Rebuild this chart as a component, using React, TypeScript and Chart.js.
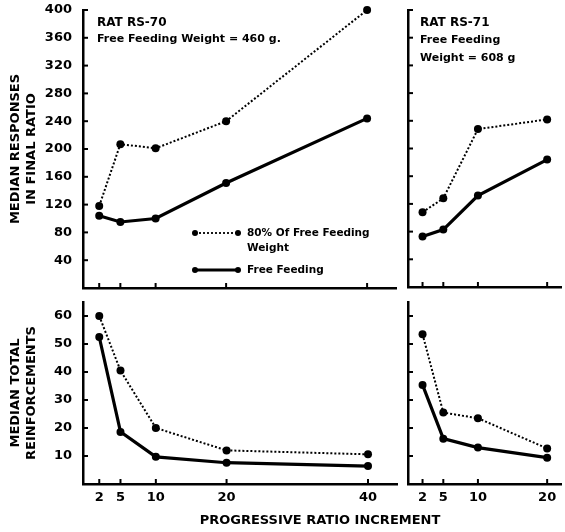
import React, { useEffect, useRef } from "react";
import { Chart, registerables } from "chart.js";
Chart.register(...registerables);

const FONT = "'DejaVu Sans', 'Liberation Sans', sans-serif";

// Progressive ratio increments (x categories)
const incrementsRS70 = [2, 5, 10, 20, 40];
const incrementsRS71 = [2, 5, 10, 20];

// Median responses in final ratio
const rs70Resp80 = [118, 207, 201, 240, 400];
const rs70RespFree = [104, 95, 100, 151, 244];
const rs71Resp80 = [108, 128, 228, 242];
const rs71RespFree = [73, 83, 132, 184];

// Median total reinforcements
const rs70Reinf80 = [60, 40.5, 20, 12, 10.6];
const rs70ReinfFree = [52.5, 18.6, 9.7, 7.6, 6.4];
const rs71Reinf80 = [53.5, 25.5, 23.5, 12.7];
const rs71ReinfFree = [35.4, 16.2, 13, 9.4];

// Tick values
const responseTicks = [40, 80, 120, 160, 200, 240, 280, 320, 360, 400];
const reinfTicks = [10, 20, 30, 40, 50, 60];

const legend80 = ["80% Of Free Feeding", "Weight"];
const legendFree = "Free Feeding";
const xAxisTitle = "PROGRESSIVE RATIO INCREMENT";

const inwardTicks = {
  id: "inwardTicks",
  afterDatasetsDraw(chart: any) {
    const { ctx, chartArea } = chart;
    const xs = chart.scales.x;
    const ys = chart.scales.y;
    ctx.save();
    ctx.strokeStyle = "#000";
    ctx.lineWidth = 2;
    for (const t of xs.ticks) {
      const px = xs.getPixelForValue(t.value);
      ctx.beginPath();
      ctx.moveTo(px, chartArea.bottom);
      ctx.lineTo(px, chartArea.bottom - 5);
      ctx.stroke();
    }
    for (const t of ys.ticks) {
      const py = ys.getPixelForValue(t.value);
      ctx.beginPath();
      ctx.moveTo(chartArea.left, py);
      ctx.lineTo(chartArea.left + 5, py);
      ctx.stroke();
    }
    ctx.restore();
  },
};

function textPlugin(id: string, draw: (ctx: CanvasRenderingContext2D) => void) {
  return {
    id,
    afterDraw(chart: any) {
      const ctx = chart.ctx as CanvasRenderingContext2D;
      ctx.save();
      ctx.fillStyle = "#000";
      ctx.strokeStyle = "#000";
      ctx.textBaseline = "middle";
      ctx.textAlign = "left";
      draw(ctx);
      ctx.restore();
    },
  };
}

type PanelProps = {
  left: number;
  top: number;
  width: number;
  height: number;
  xs: number[];
  s80: number[];
  sFree: number[];
  xMin: number;
  xMax: number;
  yMax: number;
  yTicks: number[];
  showY: boolean;
  showX: boolean;
  yTitle?: string[];
  padding: { top: number; right: number; bottom: number; left: number };
  yWidth: number;
  xHeight: number;
  extra?: any;
};

function zeroPad(s: any) {
  s.paddingTop = 0;
  s.paddingBottom = 0;
  s.paddingLeft = 0;
  s.paddingRight = 0;
}

function Panel(p: PanelProps) {
  const ref = useRef<HTMLCanvasElement>(null);
  useEffect(() => {
    const tickFont = { family: FONT, size: 13, weight: "bold" as const };
    const chart = new Chart(ref.current!, {
      type: "line",
      data: {
        datasets: [
          {
            data: p.xs.map((x, i) => ({ x, y: p.s80[i] })),
            borderColor: "#000",
            borderWidth: 2,
            borderDash: [2, 2],
            pointRadius: 4,
            pointBackgroundColor: "#000",
            pointBorderWidth: 0,
            tension: 0,
            clip: false as any,
          },
          {
            data: p.xs.map((x, i) => ({ x, y: p.sFree[i] })),
            borderColor: "#000",
            borderWidth: 3.2,
            pointRadius: 4,
            pointBackgroundColor: "#000",
            pointBorderWidth: 0,
            tension: 0,
            clip: false as any,
          },
        ],
      },
      options: {
        animation: false,
        responsive: false,
        devicePixelRatio: 1,
        layout: { padding: p.padding },
        plugins: { legend: { display: false }, tooltip: { enabled: false } },
        scales: {
          x: {
            type: "linear",
            min: p.xMin,
            max: p.xMax,
            afterBuildTicks: (s: any) => {
              s.ticks = p.xs.map((v) => ({ value: v }));
            },
            afterFit: (s: any) => {
              s.height = p.xHeight;
              zeroPad(s);
            },
            grid: { display: false, drawTicks: false },
            border: { display: true, color: "#000", width: 2.5 },
            ticks: {
              display: p.showX,
              padding: 6,
              color: "#000",
              font: tickFont,
              maxRotation: 0,
              autoSkip: false,
              callback: (v: any) => String(v),
            },
          },
          y: {
            type: "linear",
            min: 0,
            max: p.yMax,
            afterBuildTicks: (s: any) => {
              s.ticks = p.yTicks.map((v) => ({ value: v }));
            },
            afterFit: (s: any) => {
              s.width = p.yWidth;
              zeroPad(s);
            },
            grid: { display: false, drawTicks: false },
            border: { display: true, color: "#000", width: 2.5 },
            ticks: {
              display: p.showY,
              padding: 11,
              color: "#000",
              font: tickFont,
              autoSkip: false,
              callback: (v: any) => String(v),
            },
            title: p.yTitle
              ? {
                  display: true,
                  text: p.yTitle,
                  color: "#000",
                  font: { family: FONT, size: 13, weight: "bold", lineHeight: 1.23 },
                  padding: { top: 8, bottom: 0 },
                }
              : { display: false },
          },
        },
      } as any,
      plugins: p.extra ? [inwardTicks, p.extra] : [inwardTicks],
    });
    return () => chart.destroy();
  }, []);
  return (
    <canvas
      ref={ref}
      width={p.width}
      height={p.height}
      style={{ position: "absolute", left: p.left, top: p.top, display: "block" }}
    />
  );
}

const tlText = textPlugin("tlText", (ctx) => {
  ctx.font = `bold 12px ${FONT}`;
  ctx.fillText("RAT RS-70", 97, 23);
  ctx.font = `bold 11px ${FONT}`;
  ctx.fillText("Free Feeding Weight = 460 g.", 97, 39);
  // legend
  ctx.setLineDash([2, 2]);
  ctx.lineWidth = 1.8;
  ctx.beginPath();
  ctx.moveTo(195, 233);
  ctx.lineTo(238, 233);
  ctx.stroke();
  ctx.setLineDash([]);
  ctx.lineWidth = 3;
  ctx.beginPath();
  ctx.moveTo(195, 270);
  ctx.lineTo(238, 270);
  ctx.stroke();
  for (const [x, y] of [
    [195, 233],
    [238, 233],
    [195, 270],
    [238, 270],
  ]) {
    ctx.beginPath();
    ctx.arc(x, y, 3, 0, Math.PI * 2);
    ctx.fill();
  }
  ctx.font = `bold 10.5px ${FONT}`;
  ctx.fillText(legend80[0], 247, 233);
  ctx.fillText(legend80[1], 247, 248);
  ctx.fillText(legendFree, 247, 270);
});

const trText = textPlugin("trText", (ctx) => {
  ctx.font = `bold 12px ${FONT}`;
  ctx.fillText("RAT RS-71", 20, 23);
  ctx.font = `bold 11px ${FONT}`;
  ctx.fillText("Free Feeding", 20, 40);
  ctx.fillText("Weight = 608 g", 20, 58);
});

const blText = textPlugin("blText", (ctx) => {
  ctx.font = `bold 13px ${FONT}`;
  ctx.textAlign = "center";
  ctx.fillText(xAxisTitle, 320, 229);
});

export default function App() {
  return (
    <div style={{ position: "absolute", left: 0, top: 0, width: 565, height: 532, background: "#fff" }}>
      <Panel
        left={0}
        top={0}
        width={400}
        height={292}
        xs={incrementsRS70}
        s80={rs70Resp80}
        sFree={rs70RespFree}
        xMin={-0.3}
        xMax={44.1}
        yMax={400}
        yTicks={responseTicks}
        showY={true}
        showX={false}
        yTitle={["MEDIAN RESPONSES", "IN FINAL RATIO"]}
        padding={{ top: 10, right: 3, bottom: 0, left: 0 }}
        yWidth={83}
        xHeight={4}
        extra={tlText}
      />
      <Panel
        left={400}
        top={0}
        width={165}
        height={292}
        xs={incrementsRS71}
        s80={rs71Resp80}
        sFree={rs71RespFree}
        xMin={-0.1}
        xMax={22}
        yMax={400}
        yTicks={responseTicks}
        showY={false}
        showX={false}
        padding={{ top: 10, right: 0, bottom: 0, left: 0 }}
        yWidth={8}
        xHeight={5}
        extra={trText}
      />
      <Panel
        left={0}
        top={292}
        width={565}
        height={240}
        xs={incrementsRS70}
        s80={rs70Reinf80}
        sFree={rs70ReinfFree}
        xMin={-0.3}
        xMax={44.1}
        yMax={65}
        yTicks={reinfTicks}
        showY={true}
        showX={true}
        yTitle={["MEDIAN TOTAL", "REINFORCEMENTS"]}
        padding={{ top: 10, right: 168, bottom: 0, left: 0 }}
        yWidth={83}
        xHeight={48}
        extra={blText}
      />
      <Panel
        left={400}
        top={292}
        width={165}
        height={240}
        xs={incrementsRS71}
        s80={rs71Reinf80}
        sFree={rs71ReinfFree}
        xMin={-0.1}
        xMax={22}
        yMax={65}
        yTicks={reinfTicks}
        showY={false}
        showX={true}
        padding={{ top: 10, right: 0, bottom: 0, left: 0 }}
        yWidth={8}
        xHeight={48}
      />
    </div>
  );
}
